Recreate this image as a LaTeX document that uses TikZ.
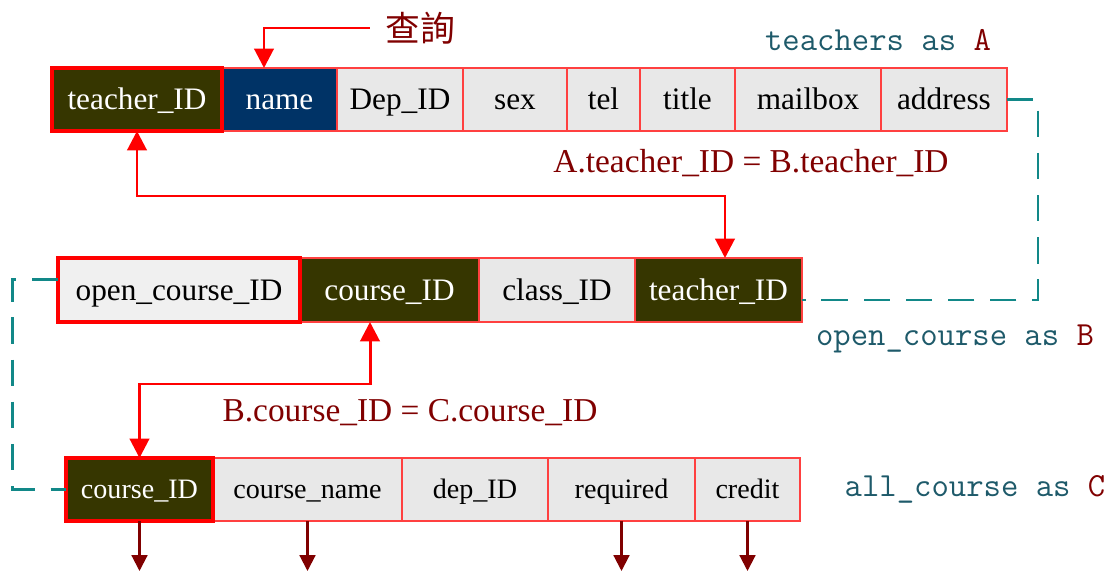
\documentclass[tikz,border=0pt]{standalone}
\usepackage{fontspec}
\setmainfont{Liberation Serif}
\newfontfamily\cjk{Noto Sans CJK TC}
\usetikzlibrary{arrows.meta}
\definecolor{olivebox}{HTML}{363600}
\definecolor{navybox}{HTML}{003366}
\definecolor{cellgray}{HTML}{E8E8E8}
\definecolor{celllight}{HTML}{F0F0F0}
\definecolor{darkred}{HTML}{800000}
\definecolor{nameteal}{HTML}{1E5A6A}
\definecolor{dashteal}{HTML}{128888}

\begin{document}
\begin{tikzpicture}[x=0.02cm,y=-0.02cm,
  cell/.style={draw=red!75,line width=0.6pt,fill=cellgray,minimum height=1.26cm,
    inner sep=0pt,outer sep=0pt,text height=15pt,text depth=3.2pt,
    font=\fontsize{17.8}{20}\selectfont},
  rowC/.style={font=\fontsize{16}{18}\selectfont,text height=14pt},
  keycell/.style={draw=red,line width=1.8pt},
  darkcell/.style={fill=olivebox,text=white},
  tblname/.style={text=nameteal,font=\fontsize{19.2}{22}\selectfont\ttfamily},
  eqlabel/.style={text=darkred,font=\fontsize{19}{22}\selectfont},
  linkarrow/.style={red,line width=1.7pt,
    {Triangle[width=11pt,length=11pt]}-{Triangle[width=11pt,length=11pt]}},
  queryarrow/.style={red,line width=1.7pt,-{Triangle[width=11pt,length=11pt]}},
  outarrow/.style={darkred,line width=1.2pt,-{Triangle[width=9pt,length=9pt]}},
  alias/.style={dashteal,line width=1.7pt,dash pattern=on 15pt off 9pt}]
\useasboundingbox (0,0) rectangle (1113,572);

\node[cell,minimum width=2.3cm,fill=navybox,text=white] (tA_name) at (279.5,99.5) {name};
\node[cell,minimum width=2.52cm] (tA_dep) at (400,99.5) {Dep\_ID};
\node[cell,minimum width=2.08cm] (tA_sex) at (515,99.5) {sex};
\node[cell,minimum width=1.46cm] (tA_tel) at (603.5,99.5) {tel};
\node[cell,minimum width=1.9cm] (tA_title) at (687.5,99.5) {title};
\node[cell,minimum width=2.92cm] (tA_mail) at (808,99.5) {mailbox};
\node[cell,minimum width=2.52cm] (tA_addr) at (944,99.5) {address};
\node[cell,keycell,darkcell,minimum width=3.4cm] (tA_id) at (137,99.5) {teacher\_ID};

\node[cell,darkcell,minimum width=3.58cm,minimum height=1.28cm] (oB_cid) at (389.5,290) {course\_ID};
\node[cell,minimum width=3.12cm,minimum height=1.28cm] (oB_class) at (557,290) {class\_ID};
\node[cell,darkcell,minimum width=3.34cm,minimum height=1.28cm] (oB_tid) at (718.5,290) {teacher\_ID};
\node[cell,keycell,fill=celllight,minimum width=4.84cm,minimum height=1.28cm] (oB_ocid) at (179,290) {open\_course\_ID};

\node[cell,rowC,minimum width=3.78cm] (aC_name) at (307.5,489.5) {course\_name};
\node[cell,rowC,minimum width=2.92cm] (aC_dep) at (475,489.5) {dep\_ID};
\node[cell,rowC,minimum width=2.94cm] (aC_req) at (621.5,489.5) {required};
\node[cell,rowC,minimum width=2.1cm] (aC_cred) at (747.5,489.5) {credit};
\node[cell,rowC,keycell,darkcell,minimum width=2.94cm] (aC_cid) at (139.5,489.5) {course\_ID};

\node[tblname] (lblA) at (878,40) {teachers as \textcolor{darkred}{A}};
\node[tblname] (lblB) at (955,339) {open\_course as \textcolor{darkred}{B}};
\node[tblname] (lblC) at (975,489) {all\_course as \textcolor{darkred}{C}};
\node[eqlabel] (eqAB) at (751,163) {A.teacher\_ID = B.teacher\_ID};
\node[eqlabel] (eqBC) at (410,413) {B.course\_ID = C.course\_ID};
\node[text=darkred,font=\fontsize{19.8}{22}\selectfont\cjk,inner sep=0pt] (query) at (420,28) {查詢};

\draw[queryarrow] ([xshift=-0.3cm]query.west) -| ([xshift=-0.31cm]tA_name.north);
\draw[linkarrow] (tA_id.south) -- ++(0,65) -| ([xshift=0.13cm]oB_tid.north);
\draw[linkarrow] ([xshift=-0.39cm]oB_cid.south) -- ++(0,62) -| (aC_cid.north);

\draw[alias] (tA_addr.east) -- ++(31,0) |- ([yshift=-0.2cm]oB_tid.east);
\draw[alias] ([yshift=0.22cm]oB_ocid.west) -- ++(-46,0) |- (aC_cid.west);

\foreach \c in {aC_cid,aC_name,aC_req,aC_cred}
  \draw[outarrow] (\c.south) -- ++(0,50);
\end{tikzpicture}
\end{document}
